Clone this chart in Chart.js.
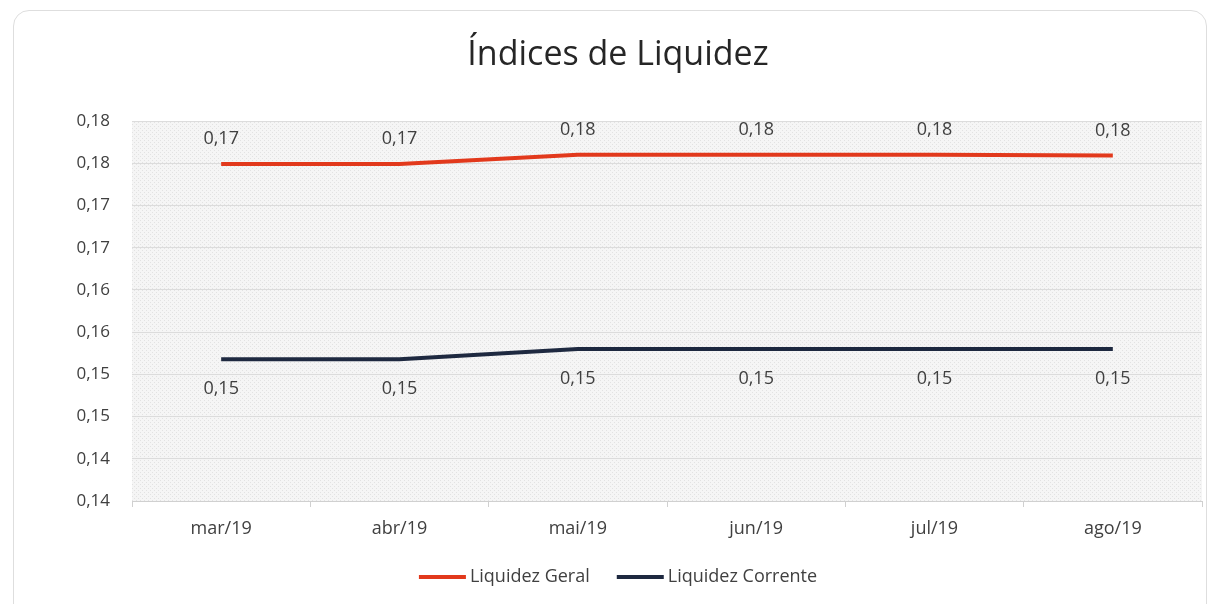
<!DOCTYPE html>
<html>
<head>
<meta charset="utf-8">
<script src="https://cdn.jsdelivr.net/npm/chart.js@4"></script>
<style>
  body { margin: 0; background: #fff; }
  #card { position: absolute; left: 13px; top: 10px; width: 1194px; height: 610px;
          border: 1px solid #dedede; border-radius: 16px; box-sizing: border-box; }
  #wrap { position: absolute; left: 0; top: 0; width: 1209px; height: 604px; }
</style>
</head>
<body>
<div id="card"></div>
<div id="wrap"><canvas id="mycanvas" width="1209" height="604"></canvas></div>
<script>
var titulo = 'Índices de Liquidez';
var meses = ['mar/19', 'abr/19', 'mai/19', 'jun/19', 'jul/19', 'ago/19'];
var liquidezGeral = [0.1749, 0.1749, 0.1760, 0.1760, 0.1760, 0.1759];
var liquidezCorrente = [0.1518, 0.1518, 0.1530, 0.1530, 0.1530, 0.1530];
var yTickLabels = ['0,14', '0,14', '0,15', '0,15', '0,16', '0,16', '0,17', '0,17', '0,18', '0,18'];

var FONTE = '"Open Sans"';
var CENTRO = 618;

function fmt(v) {
	return (Math.round(v * 100 + 1e-9) / 100).toFixed(2).replace('.', ',');
}

// fundo hachurado da area do grafico
var hatch = {
	id: 'hatch',
	beforeDraw: function(chart) {
		var a = chart.chartArea, ctx = chart.ctx;
		var p = document.createElement('canvas');
		p.width = 4; p.height = 4;
		var pc = p.getContext('2d');
		pc.fillStyle = '#f5f5f5';
		pc.fillRect(0, 0, 4, 4);
		pc.fillStyle = '#e2e2e2';
		pc.fillRect(0, 0, 1, 1);
		pc.fillRect(2, 2, 1, 1);
		ctx.save();
		ctx.fillStyle = ctx.createPattern(p, 'repeat');
		ctx.fillRect(a.left, a.top, a.right - a.left, a.bottom - a.top);
		ctx.restore();
	}
};

// titulo, legenda e rotulos de dados
var textos = {
	id: 'textos',
	afterDatasetsDraw: function(chart) {
		var ctx = chart.ctx;
		ctx.save();
		ctx.textBaseline = 'middle';

		// rotulos
		ctx.font = '18px ' + FONTE;
		ctx.fillStyle = '#404040';
		ctx.textAlign = 'center';
		chart.data.datasets.forEach(function(ds, i) {
			var meta = chart.getDatasetMeta(i);
			meta.data.forEach(function(pt, j) {
				var dy = i === 0 ? -25 : 30;
				ctx.fillText(fmt(ds.data[j]), pt.x, pt.y + dy);
			});
		});

		// titulo
		ctx.font = '34px ' + FONTE;
		ctx.fillStyle = '#262626';
		ctx.fillText(titulo, CENTRO, 55);

		// legenda
		ctx.font = '18px ' + FONTE;
		ctx.textAlign = 'left';
		var mw = 47, gap = 4, entre = 27, total = 0;
		var dss = chart.data.datasets;
		dss.forEach(function(ds, i) {
			total += mw + gap + ctx.measureText(ds.label).width + (i < dss.length - 1 ? entre : 0);
		});
		var x = CENTRO - total / 2, y = 577;
		dss.forEach(function(ds) {
			ctx.fillStyle = ds.borderColor;
			ctx.fillRect(x, y - 2, mw, 4);
			x += mw + gap;
			ctx.fillStyle = '#404040';
			ctx.fillText(ds.label, x, y);
			x += ctx.measureText(ds.label).width + entre;
		});
		ctx.restore();
	}
};

var chartdata = {
	labels: meses,
	datasets: [
		{
			label: 'Liquidez Geral',
			data: liquidezGeral,
			borderColor: '#e2391c',
			backgroundColor: '#e2391c',
			borderWidth: 4,
			pointRadius: 0,
			lineTension: 0,
			fill: false
		},
		{
			label: 'Liquidez Corrente',
			data: liquidezCorrente,
			borderColor: '#1e2940',
			backgroundColor: '#1e2940',
			borderWidth: 4,
			pointRadius: 0,
			lineTension: 0,
			fill: false
		}
	]
};

var ctx = document.getElementById('mycanvas');

var LineGraph = new Chart(ctx, {
	type: 'line',
	data: chartdata,
	plugins: [hatch, textos],
	options: {
		responsive: false,
		animation: false,
		layout: { padding: { left: 0, right: 7, top: 121, bottom: 45 } },
		plugins: {
			title: { display: false },
			legend: { display: false },
			tooltip: { enabled: false }
		},
		scales: {
			x: {
				offset: true,
				afterFit: function(s) { s.height = 58; },
				grid: { offset: true, drawOnChartArea: false, drawTicks: true, tickLength: 6, color: '#d0d0d0' },
				border: { display: true, color: '#d0d0d0' },
				ticks: { color: '#404040', padding: 11, font: { family: 'Open Sans', size: 18 } }
			},
			y: {
				min: 0.135,
				max: 0.18,
				afterFit: function(s) { s.width = 132; },
				grid: { color: '#dcdcdc', drawTicks: false },
				border: { display: false },
				ticks: {
					stepSize: 0.005,
					padding: 22,
					color: '#404040',
					font: { family: 'Open Sans', size: 17 },
					callback: function(v, i) { return yTickLabels[i]; }
				}
			}
		}
	}
});
</script>
</body>
</html>
